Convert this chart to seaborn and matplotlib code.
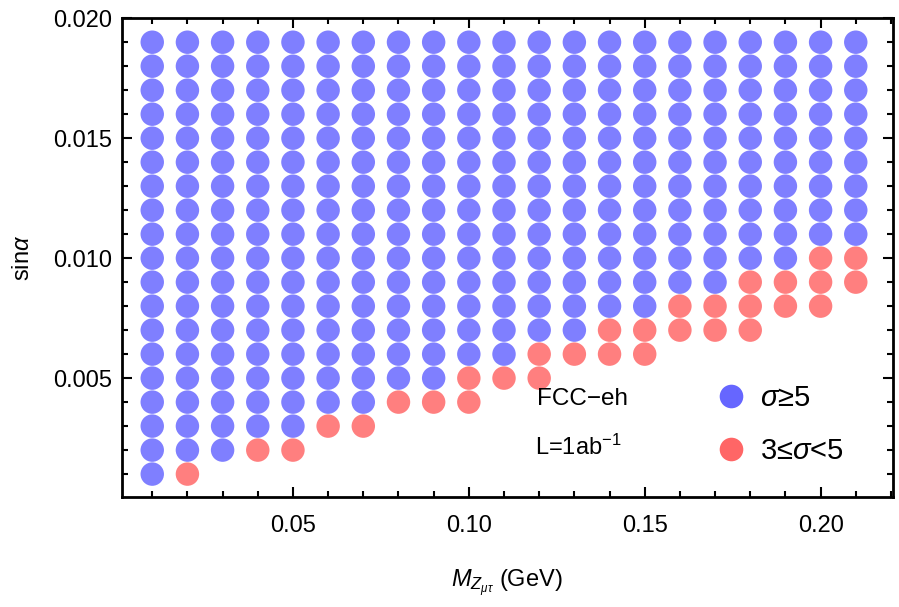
import numpy as np
import pandas as pd
import matplotlib
matplotlib.use("Agg")
import matplotlib.pyplot as plt
from matplotlib.lines import Line2D
from matplotlib.ticker import MultipleLocator
import seaborn as sns

# grid of benchmark masses (GeV) and mixing
mass = [0.01, 0.02, 0.03, 0.04, 0.05, 0.06, 0.07, 0.08, 0.09, 0.10, 0.11,
        0.12, 0.13, 0.14, 0.15, 0.16, 0.17, 0.18, 0.19, 0.20, 0.21]
# lowest sin(alpha) with sigma >= 5 in each column (goes up to 0.019)
blue_lo = [0.001, 0.002, 0.002, 0.003, 0.003, 0.004, 0.004, 0.005, 0.005, 0.006, 0.006,
           0.007, 0.007, 0.008, 0.008, 0.009, 0.009, 0.010, 0.010, 0.011, 0.011]
blue_hi = 0.019
# 3 <= sigma < 5 band in each column (None = no point)
red_lo = [None, 0.001, None, 0.002, 0.002, 0.003, 0.003, 0.004, 0.004, 0.004, 0.005,
          0.005, 0.006, 0.006, 0.006, 0.007, 0.007, 0.007, 0.008, 0.008, 0.009]
red_hi = [None, 0.001, None, 0.002, 0.002, 0.003, 0.003, 0.004, 0.004, 0.005, 0.005,
          0.006, 0.006, 0.007, 0.007, 0.008, 0.008, 0.009, 0.009, 0.010, 0.010]
step = 0.001

rows = []
for i, m in enumerate(mass):
    n = int(round((blue_hi - blue_lo[i]) / step)) + 1
    for k in range(n):
        rows.append((m, blue_lo[i] + k * step, "blue"))
    if red_lo[i] is not None:
        n = int(round((red_hi[i] - red_lo[i]) / step)) + 1
        for k in range(n):
            rows.append((m, red_lo[i] + k * step, "red"))
df = pd.DataFrame(rows, columns=["mass", "sina", "cls"])

sns.set_style("ticks")
plt.rcParams['font.family'] = ['Liberation Sans', 'DejaVu Sans']
plt.rcParams['mathtext.fontset'] = 'custom'
plt.rcParams['mathtext.rm'] = 'Liberation Sans'
plt.rcParams['mathtext.it'] = 'Liberation Sans:italic'
plt.rcParams['mathtext.bf'] = 'Liberation Sans:bold'
plt.rcParams['text.color'] = 'black'
plt.rcParams['axes.labelcolor'] = 'black'
plt.rcParams['xtick.color'] = 'black'
plt.rcParams['ytick.color'] = 'black'

fig = plt.figure(figsize=(8.99, 6.07), dpi=100)
ax = fig.add_axes([0.1357, 0.181, 0.8573, 0.789])

pal = {"blue": "#0000ff", "red": "#ff0000"}
sns.scatterplot(data=df, x="mass", y="sina", hue="cls", palette=pal,
                s=285, alpha=0.5, linewidth=0, legend=False, ax=ax)

ax.set_xlim(0.0014, 0.2205)
ax.set_ylim(0.00004, 0.020)
ax.xaxis.set_major_locator(MultipleLocator(0.05))
ax.xaxis.set_minor_locator(MultipleLocator(0.01))
ax.set_yticks([0.005, 0.010, 0.015, 0.020])
ax.yaxis.set_minor_locator(MultipleLocator(0.001))
ax.xaxis.set_major_formatter(matplotlib.ticker.FormatStrFormatter('%.2f'))
ax.yaxis.set_major_formatter(matplotlib.ticker.FormatStrFormatter('%.3f'))

for s in ax.spines.values():
    s.set_linewidth(2)
    s.set_color("black")
ax.tick_params(which="both", direction="in", top=True, right=True, width=1.5)
ax.tick_params(which="major", length=7.5)
ax.tick_params(which="minor", length=4)
ax.tick_params(axis="x", which="major", pad=13, labelsize=17)
ax.tick_params(axis="y", which="major", pad=7, labelsize=17)

ax.set_xlabel(r"$M_{Z_{\mu\tau}}$ (GeV)", fontsize=17, labelpad=22)
ax.set_ylabel(r"sin$\alpha$", fontsize=17, labelpad=14)

ax.text(0.538, 0.205, "FCC\u2212eh", transform=ax.transAxes, fontsize=17.5,
        va="center", ha="left")
ax.text(0.536, 0.105, r"L=1ab$^{-1}$", transform=ax.transAxes, fontsize=17,
        va="center", ha="left")

handles = [
    Line2D([], [], marker="o", ls="", ms=17, mew=0, color="#0000ff", alpha=0.6),
    Line2D([], [], marker="o", ls="", ms=17, mew=0, color="#ff0000", alpha=0.6),
]
ax.legend(handles, [r"$\sigma$≥5", r"3≤$\sigma$<5"], frameon=False,
          fontsize=21, loc="center left", bbox_to_anchor=(0.733, 0.152),
          handletextpad=0.4, labelspacing=0.85, handlelength=1.2)

fig.savefig("out.png", dpi=100)
